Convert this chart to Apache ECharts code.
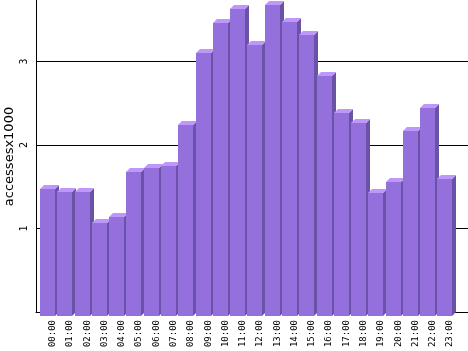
<!DOCTYPE html>
<html>
<head>
<meta charset="utf-8">
<script src="https://cdn.jsdelivr.net/npm/echarts@6/dist/echarts.min.js"></script>
<style>
html, body { margin: 0; padding: 0; background: #fff; }
#chart { width: 468px; height: 351px; }
</style>
</head>
<body>
<div id="chart"></div>
<script>
// hourly accesses (x1000)
const hours = ['00:00', '01:00', '02:00', '03:00', '04:00', '05:00', '06:00', '07:00',
	'08:00', '09:00', '10:00', '11:00', '12:00', '13:00', '14:00', '15:00',
	'16:00', '17:00', '18:00', '19:00', '20:00', '21:00', '22:00', '23:00'];
const accesses = [1.52, 1.49, 1.49, 1.11, 1.18, 1.73, 1.77, 1.80, 2.29, 3.15, 3.51, 3.68,
	3.25, 3.73, 3.52, 3.37, 2.87, 2.43, 2.31, 1.47, 1.61, 2.22, 2.49, 1.64];
const yTicks = [1, 2, 3];

const chart = echarts.init(document.getElementById('chart'));

const D = 4; // depth of the fake 3d
const FRONT = '#9370db', TOP = '#bf96fa', SIDE = '#6a52a6';

function renderBar(params, api) {
	const i = api.value(0), v = api.value(1);
	const t = api.coord([i, v]);
	const b = api.coord([i, 0]);
	const x0 = Math.round(t[0] - 4.6);
	const x1 = x0 + 15;
	const yt = Math.round(t[1]) + D;
	const yb = Math.round(b[1]) + D;
	return {
		type: 'group',
		children: [{
			type: 'polygon',
			shape: { points: [[x1, yt], [x1 + D, yt - D], [x1 + D, yb - D], [x1, yb]] },
			style: { fill: SIDE }
		}, {
			type: 'polygon',
			shape: { points: [[x0, yt], [x0 + D, yt - D], [x1 + D, yt - D], [x1, yt]] },
			style: { fill: TOP }
		}, {
			type: 'rect',
			shape: { x: x0, y: yt, width: x1 - x0, height: yb - yt },
			style: { fill: FRONT }
		}]
	};
}

let option = {
	animation: false,
	backgroundColor: '#fff',
	grid: {
		left: 36,
		right: 0,
		top: -22,
		bottom: 39,
		containLabel: false,
		outerBoundsMode: 'none'
	},
	xAxis: {
		type: 'category',
		data: hours.concat(['']),
		boundaryGap: true,
		axisLine: { lineStyle: { color: '#000', width: 1 } },
		axisTick: { show: false },
		axisLabel: {
			rotate: 90,
			margin: 8,
			interval: 0,
			color: '#000',
			fontFamily: 'DejaVu Sans Mono',
			fontSize: 9,
			verticalAlign: 'top',
			lineHeight: 16
		},
		splitLine: { show: false }
	},
	yAxis: {
		type: 'value',
		min: 0,
		max: 4,
		interval: 1,
		name: '{t|accessesx1000}{p|}',
		nameLocation: 'middle',
		nameGap: 20,
		nameMoveOverlap: false,
		nameTextStyle: {
			color: '#000',
			fontFamily: 'DejaVu Sans',
			fontSize: 13,
			rich: {
				t: { color: '#000', fontFamily: 'DejaVu Sans', fontSize: 13 },
				p: { width: 23 }
			}
		},
		axisLine: { show: true, lineStyle: { color: '#000', width: 1 } },
		axisTick: { show: false },
		axisLabel: {
			rotate: 90,
			margin: 7,
			color: '#000',
			fontFamily: 'DejaVu Sans Mono',
			fontSize: 10,
			formatter: function (val) {
				return yTicks.indexOf(val) >= 0 ? String(val) : '';
			}
		},
		splitLine: { show: true, lineStyle: { color: '#000', width: 1 } }
	},
	series: [{
		type: 'custom',
		renderItem: renderBar,
		encode: { x: 0, y: 1 },
		data: accesses.map(function (v, i) { return [i, v]; })
	}]
};
chart.setOption(option);
</script>
</body>
</html>
